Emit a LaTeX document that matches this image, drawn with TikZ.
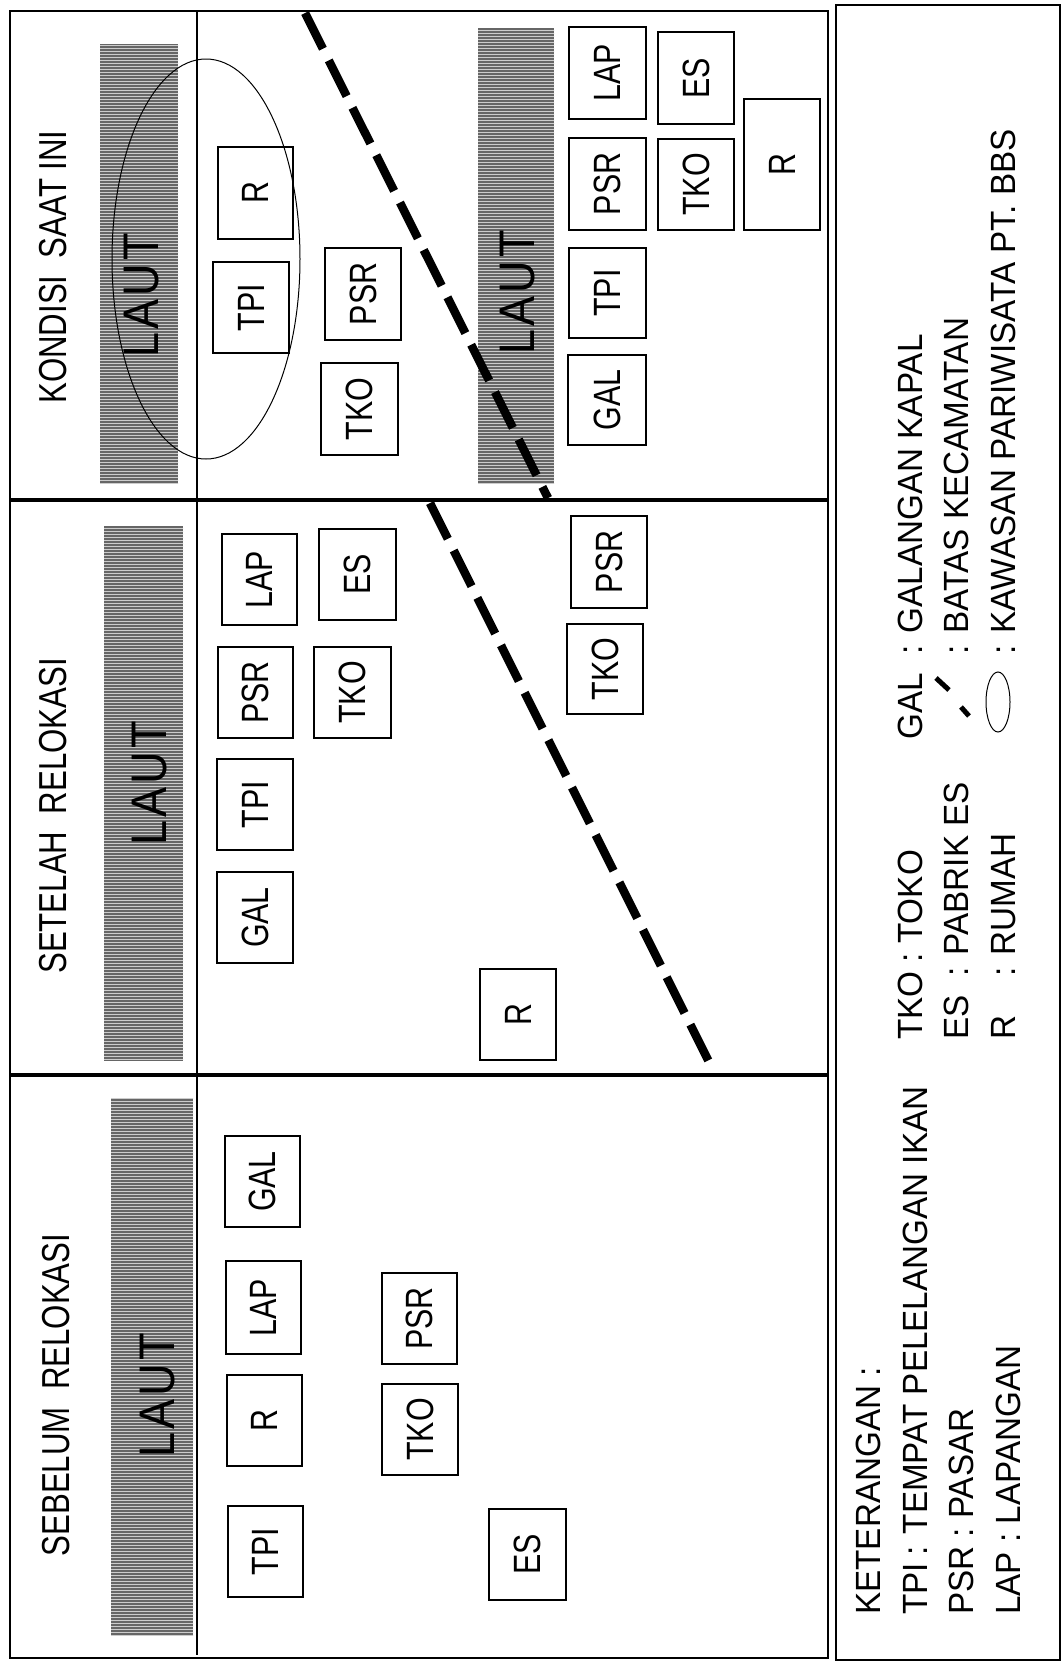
\documentclass[tikz,border=0pt]{standalone}
\usepackage{graphicx}
\usepackage{fontspec}
\setmainfont{Liberation Sans}
\newfontfamily\boxfont[FakeStretch=0.8]{Liberation Sans}
\newfontfamily\titlefont[FakeStretch=0.8]{Liberation Sans}
\newfontfamily\legfont[FakeStretch=0.95]{Liberation Sans}
\newfontfamily\lautfont[FakeStretch=0.9,LetterSpace=6]{Liberation Sans}
\usetikzlibrary{patterns}
\tikzset{
  frameline/.style={line width=1.5pt},
  sepline/.style={line width=4pt},
  thinsep/.style={line width=1.3pt},
  bbox/.style={draw, line width=1.4pt, inner sep=0pt, font=\boxfont\fontsize{38}{40}\selectfont},
  title/.style={rotate=90, inner sep=0pt, font=\titlefont\fontsize{39}{42}\selectfont},
  lautlbl/.style={rotate=90, inner sep=0pt, font=\lautfont\fontsize{50}{55}\selectfont},
  legtxt/.style={rotate=90, anchor=base west, inner sep=0pt, font=\legfont\fontsize{35}{40}\selectfont},
  batas/.style={line width=8.5pt, dash pattern=on 40pt off 13pt},
  kawasan/.style={line width=1pt},
}
\newcommand\lautbar[4]{%
  \fill[black!60] (#1,#2) rectangle (#3,#4);
  \fill[pattern=horizontal lines, pattern color=black!20] (#1,#2) rectangle (#3,#4);}
\begin{document}
\begin{tikzpicture}[x=1pt,y=-1pt]
\useasboundingbox (0,0) rectangle (1062,1663);
\fill[white] (0,0) rectangle (1062,1663);

% sea bars
\lautbar{100}{44}{178}{483}
\lautbar{478}{28}{554}{483}
\lautbar{104}{526}{183}{1061}
\lautbar{111}{1098}{193}{1635}
\node[lautlbl] (laut1) at (142,295) {LAUT};
\node[lautlbl] (laut2) at (518,292) {LAUT};
\node[lautlbl] (laut3) at (150,783) {LAUT};
\node[lautlbl] (laut4) at (158,1395) {LAUT};

% frames
\draw[frameline] (10,11) rectangle (828,1658);
\draw[frameline] (836,5) rectangle (1060,1660);
\draw[thinsep] (197,11) -- (197,1655);
\draw[sepline] (10,500) -- (828,500);
\draw[sepline] (10,1075) -- (828,1075);

% titles
\node[title] (t1) at (53,267) {KONDISI\ \ SAAT INI};
\node[title] (t2) at (53,816) {SETELAH\ \ RELOKASI};
\node[title] (t3) at (56,1395) {SEBELUM\ \ RELOKASI};

% KONDISI SAAT INI
\node[bbox, minimum width=75pt, minimum height=92pt] (kR) at (255.5,193) {\rotatebox{90}{R}};
\node[bbox, minimum width=76pt, minimum height=91pt] (kTPI) at (251,307.5) {\rotatebox{90}{TPI}};
\node[bbox, minimum width=76pt, minimum height=92pt] (kPSR) at (363,294) {\rotatebox{90}{PSR}};
\node[bbox, minimum width=77pt, minimum height=92pt] (kTKO) at (359.5,409) {\rotatebox{90}{TKO}};
\node[bbox, minimum width=77pt, minimum height=92pt] (kLAP2) at (607.5,73) {\rotatebox{90}{LAP}};
\node[bbox, minimum width=77pt, minimum height=92pt] (kPSR2) at (607.5,184) {\rotatebox{90}{PSR}};
\node[bbox, minimum width=77pt, minimum height=90pt] (kTPI2) at (607.5,293) {\rotatebox{90}{TPI}};
\node[bbox, minimum width=78pt, minimum height=90pt] (kGAL2) at (607,400) {\rotatebox{90}{GAL}};
\node[bbox, minimum width=76pt, minimum height=92pt] (kES2) at (696,78) {\rotatebox{90}{ES}};
\node[bbox, minimum width=76pt, minimum height=91pt] (kTKO2) at (696,184.5) {\rotatebox{90}{TKO}};
\node[bbox, minimum width=76pt, minimum height=131pt] (kR2) at (782,164.5) {\rotatebox{90}{R}};
\draw[kawasan] (206,259) ellipse [x radius=94, y radius=200];

% SETELAH RELOKASI
\node[bbox, minimum width=75pt, minimum height=91pt] (sLAP) at (259.5,579.5) {\rotatebox{90}{LAP}};
\node[bbox, minimum width=75pt, minimum height=91pt] (sPSR) at (255.5,692.5) {\rotatebox{90}{PSR}};
\node[bbox, minimum width=76pt, minimum height=91pt] (sTPI) at (255,804.5) {\rotatebox{90}{TPI}};
\node[bbox, minimum width=76pt, minimum height=91pt] (sGAL) at (255,917.5) {\rotatebox{90}{GAL}};
\node[bbox, minimum width=77pt, minimum height=91pt] (sES) at (357.5,574.5) {\rotatebox{90}{ES}};
\node[bbox, minimum width=77pt, minimum height=91pt] (sTKO) at (352.5,692.5) {\rotatebox{90}{TKO}};
\node[bbox, minimum width=76pt, minimum height=91pt] (sR) at (518,1014.5) {\rotatebox{90}{R}};
\node[bbox, minimum width=76pt, minimum height=92pt] (sPSR2) at (609,562) {\rotatebox{90}{PSR}};
\node[bbox, minimum width=76pt, minimum height=90pt] (sTKO2) at (605,669) {\rotatebox{90}{TKO}};

% SEBELUM RELOKASI
\node[bbox, minimum width=75pt, minimum height=91pt] (bGAL) at (262.5,1181.5) {\rotatebox{90}{GAL}};
\node[bbox, minimum width=75pt, minimum height=93pt] (bLAP) at (263.5,1307.5) {\rotatebox{90}{LAP}};
\node[bbox, minimum width=75pt, minimum height=91pt] (bR) at (264.5,1420.5) {\rotatebox{90}{R}};
\node[bbox, minimum width=75pt, minimum height=91pt] (bTPI) at (265.5,1551.5) {\rotatebox{90}{TPI}};
\node[bbox, minimum width=75pt, minimum height=91pt] (bPSR) at (419.5,1318.5) {\rotatebox{90}{PSR}};
\node[bbox, minimum width=76pt, minimum height=91pt] (bTKO) at (420,1429.5) {\rotatebox{90}{TKO}};
\node[bbox, minimum width=77pt, minimum height=91pt] (bES) at (527.5,1554.5) {\rotatebox{90}{ES}};

% boundary (batas kecamatan)
\coordinate (bt1) at (305,13);
\coordinate (bt2) at (548,498);
\coordinate (bm1) at (430,503);
\coordinate (bm2) at (712,1068);
\draw[batas] (bt1) -- (bt2);
\draw[batas] (bm1) -- (bm2);

% legend
\node[legtxt] (lk) at (880,1615) {KETERANGAN :};
\node[legtxt] (lTPI) at (927,1615) {TPI};
\node[legtxt] (lTPIt) at (927,1556) {: TEMPAT PELELANGAN IKAN};
\node[legtxt] (lPSR) at (973,1615) {PSR : PASAR};
\node[legtxt] (lLAP) at (1020,1615) {LAP : LAPANGAN};
\node[legtxt] (lTKO) at (922,1040) {TKO : TOKO};
\node[legtxt] (lES) at (968,1040) {ES};
\node[legtxt] (lESt) at (968,977) {: PABRIK ES};
\node[legtxt] (lR) at (1015,1040) {R};
\node[legtxt] (lRt) at (1015,977) {: RUMAH};
\node[legtxt] (lGAL) at (922,740) {GAL};
\node[legtxt] (lGALt) at (922,655) {: GALANGAN KAPAL};
\node[legtxt] (lBAT) at (968,655) {: BATAS KECAMATAN};
\node[legtxt] (lKAW) at (1015,655) {: KAWASAN PARIWISATA PT. BBS};
\coordinate (ld1) at (936,678);
\coordinate (ld2) at (949,690);
\coordinate (ld3) at (961,707);
\coordinate (ld4) at (969,716);
\draw[line width=5pt] (ld1) -- (ld2);
\draw[line width=5pt] (ld3) -- (ld4);
\draw[kawasan] (998,702) ellipse [x radius=12, y radius=30];
\end{tikzpicture}
\end{document}
